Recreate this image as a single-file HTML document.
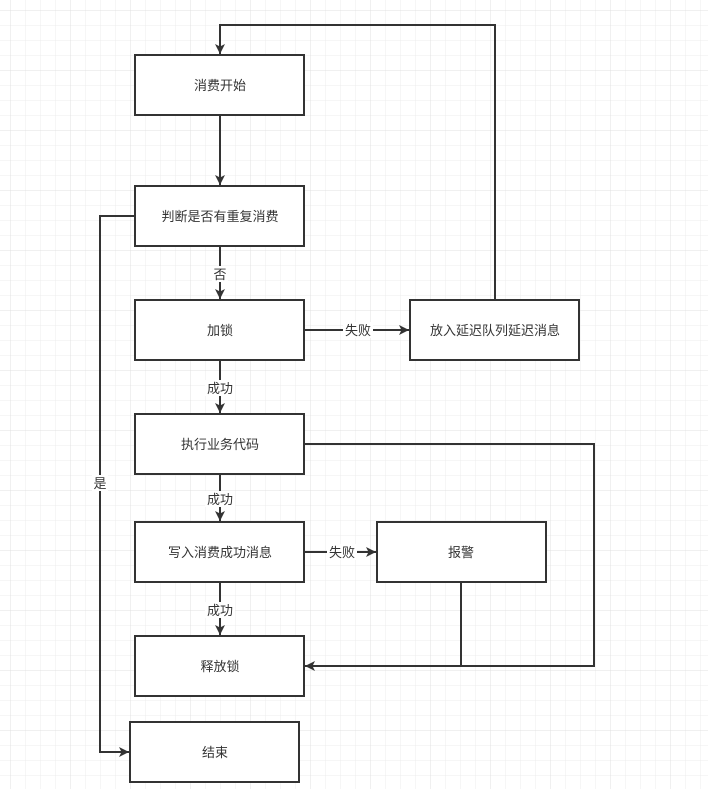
<!DOCTYPE html>
<html><head><meta charset="utf-8"><style>
html,body{margin:0;padding:0;background:#fff;}
svg{display:block;}
text{font-family:"Liberation Sans","Noto Sans CJK SC",sans-serif;font-size:13px;fill:#333;}
</style></head><body>
<svg width="708" height="789" viewBox="0 0 708 789" xmlns="http://www.w3.org/2000/svg">
<defs>
<pattern id="g" x="10" y="10" width="15" height="15" patternUnits="userSpaceOnUse">
<path d="M0 0H15M0 0V15" stroke="#ececec" stroke-width="1" fill="none"/>
</pattern>
<pattern id="G" x="10" y="10" width="60" height="60" patternUnits="userSpaceOnUse">
<path d="M0 0H60M0 0V60" stroke="#e0e0e0" stroke-width="1" fill="none"/>
</pattern>
<marker id="a" viewBox="0 0 10 10" refX="10" refY="5" markerWidth="10" markerHeight="10" markerUnits="userSpaceOnUse" orient="auto">
<path d="M0 0L10 5L0 10L2.5 5Z" fill="#333"/>
</marker>
</defs>
<rect width="708" height="789" fill="url(#g)"/>
<rect width="708" height="789" fill="url(#G)"/>
<g fill="none" stroke="#333" stroke-width="2">
<polyline points="495,300 495,25 220,25 220,54" marker-end="url(#a)"/>
<line x1="220" y1="115" x2="220" y2="185" marker-end="url(#a)"/>
<line x1="220" y1="246" x2="220" y2="299" marker-end="url(#a)"/>
<polyline points="135,216 100,216 100,752 129,752" marker-end="url(#a)"/>
<line x1="304" y1="330" x2="409" y2="330" marker-end="url(#a)"/>
<line x1="220" y1="360" x2="220" y2="413" marker-end="url(#a)"/>
<line x1="220" y1="474" x2="220" y2="521" marker-end="url(#a)"/>
<polyline points="304,444 594,444 594,666 305,666" marker-end="url(#a)"/>
<line x1="304" y1="552" x2="376" y2="552" marker-end="url(#a)"/>
<line x1="461" y1="582" x2="461" y2="666"/>
<line x1="220" y1="582" x2="220" y2="635" marker-end="url(#a)"/>
</g>
<g fill="#fff" stroke="#333" stroke-width="2">
<rect x="135" y="55" width="169" height="60"/>
<rect x="135" y="186" width="169" height="60"/>
<rect x="135" y="300" width="169" height="60"/>
<rect x="410" y="300" width="169" height="60"/>
<rect x="135" y="414" width="169" height="60"/>
<rect x="135" y="522" width="169" height="60"/>
<rect x="377" y="522" width="169" height="60"/>
<rect x="135" y="636" width="169" height="60"/>
<rect x="130" y="722" width="169" height="60"/>
</g>
<g fill="#fff">
<rect x="212" y="266" width="16" height="16"/>
<rect x="343" y="322" width="30" height="16"/>
<rect x="205" y="380" width="30" height="16"/>
<rect x="205" y="491" width="30" height="16"/>
<rect x="327" y="544" width="30" height="16"/>
<rect x="205" y="602" width="30" height="16"/>
<rect x="92" y="475" width="16" height="16"/>
</g>
<g text-anchor="middle">
<text x="220" y="90">消费开始</text>
<text x="220" y="221">判断是否有重复消费</text>
<text x="220" y="335">加锁</text>
<text x="495" y="335">放入延迟队列延迟消息</text>
<text x="220" y="449">执行业务代码</text>
<text x="220" y="557">写入消费成功消息</text>
<text x="461" y="557">报警</text>
<text x="220" y="671">释放锁</text>
<text x="215" y="757">结束</text>
<text x="220" y="279">否</text>
<text x="358" y="335">失败</text>
<text x="220" y="393">成功</text>
<text x="220" y="504">成功</text>
<text x="342" y="557">失败</text>
<text x="220" y="615">成功</text>
<text x="100" y="488">是</text>
</g>
</svg>
</body></html>
